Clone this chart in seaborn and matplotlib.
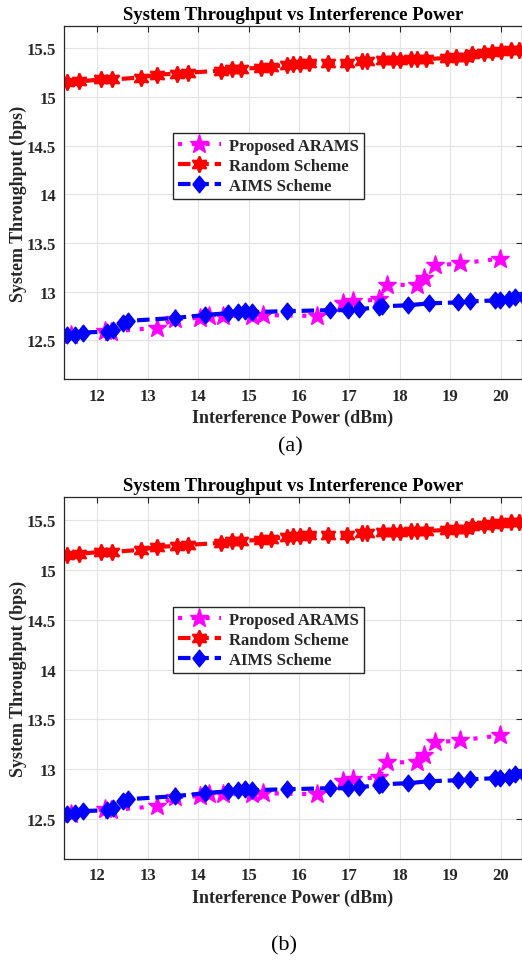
import matplotlib
matplotlib.use("Agg")
import matplotlib.pyplot as plt
import seaborn as sns
import pandas as pd

# ---------------- data ----------------
arams_x = [11.49, 12.15, 12.28, 13.18, 13.54, 14.04, 14.21, 14.50, 15.06, 15.29,
           16.35, 16.88, 17.08, 17.58, 17.74, 18.34, 18.47, 18.70, 19.20, 19.99]
arams_y = [12.55, 12.60, 12.59, 12.63, 12.72, 12.73, 12.75, 12.75, 12.75, 12.76,
           12.75, 12.88, 12.90, 12.92, 13.07, 13.07, 13.14, 13.27, 13.29, 13.34]

random_x = [11.40, 11.65, 12.07, 12.30, 12.86, 13.19, 13.59, 13.80, 14.45, 14.68,
            14.85, 15.24, 15.44, 15.76, 15.89, 16.02, 16.19, 16.58, 16.95, 17.25,
            17.35, 17.67, 17.87, 18.01, 18.21, 18.34, 18.51, 18.93, 19.11, 19.30,
            19.43, 19.66, 19.83, 20.00, 20.20, 20.35]
random_y = [15.15, 15.16, 15.18, 15.18, 15.20, 15.23, 15.24, 15.25, 15.27, 15.29,
            15.29, 15.30, 15.31, 15.33, 15.34, 15.34, 15.35, 15.35, 15.35, 15.37,
            15.37, 15.38, 15.38, 15.38, 15.39, 15.39, 15.39, 15.40, 15.41, 15.41,
            15.44, 15.45, 15.46, 15.47, 15.48, 15.48]

aims_x = [11.40, 11.56, 11.72, 12.19, 12.32, 12.52, 12.62, 13.54, 14.14, 14.60,
          14.80, 14.93, 15.06, 15.76, 16.62, 16.98, 17.18, 17.58, 17.64, 18.17,
          18.57, 19.16, 19.39, 19.89, 19.99, 20.16, 20.29, 20.45]
aims_y = [12.55, 12.56, 12.58, 12.59, 12.61, 12.68, 12.70, 12.73, 12.76, 12.78,
          12.79, 12.80, 12.79, 12.80, 12.81, 12.81, 12.82, 12.84, 12.85, 12.86,
          12.88, 12.89, 12.90, 12.91, 12.91, 12.92, 12.95, 12.95]

series_names = ["Proposed ARAMS", "Random Scheme", "AIMS Scheme"]
x_ticks = [12, 13, 14, 15, 16, 17, 18, 19, 20]
y_ticks = [12.5, 13, 13.5, 14, 14.5, 15, 15.5]
y_tick_labels = ["12.5", "13", "13.5", "14", "14.5", "15", "15.5"]
title_text = "System Throughput vs Interference Power"
x_label = "Interference Power (dBm)"
y_label = "System Throughput (bps)"
panel_labels = ["(a)", "(b)"]

# ---------------- style ----------------
sns.set_theme(style="white")
plt.rcParams["font.family"] = ["Liberation Serif", "DejaVu Serif"]
plt.rcParams["font.weight"] = "bold"
plt.rcParams["axes.titleweight"] = "bold"
plt.rcParams["axes.labelweight"] = "bold"

AX_COL = "#262626"
DIAMOND = [(-0.8, 0.0), (0.0, 1.0), (0.8, 0.0), (0.0, -1.0), (-0.8, 0.0)]

df_arams = pd.DataFrame({"x": arams_x, "y": arams_y})
df_random = pd.DataFrame({"x": random_x, "y": random_y})
df_aims = pd.DataFrame({"x": aims_x, "y": aims_y})

fig = plt.figure(figsize=(5.22, 9.62), dpi=100)
axes_rects = [[0.1232, 0.6047, 0.8759, 0.3673],
              [0.1232, 0.1060, 0.8759, 0.3763]]
label_pos = [(0.556, 0.5353), (0.544, 0.0166)]


def draw_panel(ax):
    sns.lineplot(data=df_arams, x="x", y="y", ax=ax, color="#FF00FF",
                 linestyle=(0, (1.0, 2.3)), linewidth=3.0, marker="*",
                 markersize=14, markeredgewidth=1.0, markeredgecolor="#FF00FF",
                 dash_capstyle="butt", sort=False, estimator=None,
                 label=series_names[0])
    sns.lineplot(data=df_random, x="x", y="y", ax=ax, color="#FF0000",
                 linestyle=(0, (3.0, 1.4)), linewidth=3.0, marker=(6, 1, 0),
                 markersize=11.5, markeredgewidth=1.5, markeredgecolor="#FF0000",
                 sort=False, estimator=None, label=series_names[1])
    sns.lineplot(data=df_aims, x="x", y="y", ax=ax, color="#0000FF",
                 linestyle=(0, (3.0, 1.4)), linewidth=3.0, marker=DIAMOND,
                 markersize=12, markeredgewidth=1.0, markeredgecolor="#0000FF",
                 sort=False, estimator=None, label=series_names[2])

    ax.set_xlim(11.35, 20.41)
    ax.set_ylim(12.1, 15.73)
    ax.set_xticks(x_ticks)
    ax.set_xticklabels([str(t) for t in x_ticks])
    ax.set_yticks(y_ticks)
    ax.set_yticklabels(y_tick_labels)
    ax.grid(True, color="#E3E3E3", linewidth=0.8)
    ax.set_axisbelow(True)
    ax.tick_params(direction="in", length=4, width=0.8, top=True, right=True,
                   labelsize=12, colors=AX_COL, labelcolor=AX_COL, pad=6)
    for sp in ax.spines.values():
        sp.set_color(AX_COL)
        sp.set_linewidth(0.9)
    ax.set_title(title_text, fontsize=13.5, fontweight="bold", color="black", pad=5)
    ax.set_xlabel(x_label, fontsize=13, fontweight="bold", color=AX_COL, labelpad=4)
    ax.set_ylabel(y_label, fontsize=13, fontweight="bold", color=AX_COL, labelpad=0)
    leg = ax.legend(loc="upper left", bbox_to_anchor=(0.237, 0.697),
                    borderaxespad=0, handlelength=2.6,
                    labelspacing=0.25, borderpad=0.3, handletextpad=0.5,
                    fancybox=False, framealpha=1, edgecolor=AX_COL,
                    prop={"weight": "bold", "size": 12})
    leg.get_frame().set_linewidth(1.0)


for rect, lab, pos in zip(axes_rects, panel_labels, label_pos):
    ax = fig.add_axes(rect)
    draw_panel(ax)
    fig.text(pos[0], pos[1], lab, fontsize=16, fontweight="normal",
             ha="center", va="center", color="black")

fig.savefig("out.png", dpi=100)
